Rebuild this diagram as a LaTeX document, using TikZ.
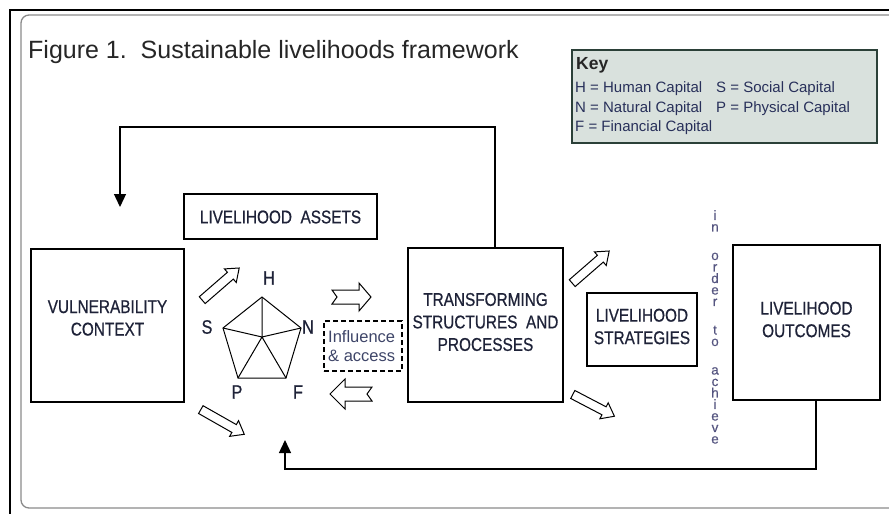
\documentclass[tikz,border=0pt]{standalone}
\usepackage{fontspec}
\setmainfont{Liberation Sans}
\newfontfamily\boxfont[FakeStretch=0.83,FakeBold=0.6]{Liberation Sans}
\newfontfamily\vfont[FakeBold=0.5]{Liberation Sans}
\usetikzlibrary{shapes.arrows,arrows.meta}
\definecolor{txtc}{HTML}{1E2238}
\definecolor{keyfill}{HTML}{D9E1DD}
\definecolor{keydraw}{HTML}{2B4038}
\definecolor{keytxt}{HTML}{28305A}
\definecolor{inftxt}{HTML}{3E4568}
\definecolor{vtxt}{HTML}{555580}
\definecolor{framegray}{HTML}{8A8A8A}
\tikzset{
  box/.style={draw, line width=1.3pt, inner sep=0pt},
  btxt/.style={font=\boxfont\fontsize{18.5}{22.5}\selectfont, text=txtc, align=center, inner sep=0pt},
  lbl/.style={font=\boxfont\fontsize{19.5}{20}\selectfont, text=txtc, inner sep=0pt},
  ktxt/.style={font=\fontsize{15}{17}\selectfont, text=keytxt, inner sep=0pt, anchor=west},
  fb/.style={line width=1.3pt, -{Triangle[width=12pt,length=13pt]}},
  harrow/.style={draw, line width=1pt, fill=white, line join=miter},
  darrow/.style={single arrow, draw, line width=1pt, minimum width=17pt, single arrow head extend=4.5pt, single arrow tip angle=75, inner sep=4pt},
  pent/.style={line width=1pt, line join=miter},
}
\begin{document}
\begin{tikzpicture}[x=1pt,y=-1pt]
\useasboundingbox (0,0) rectangle (889,514);
% frames
\draw[line width=2.2pt] (10,530) -- (10,10) -- (900,10);
\draw[framegray, line width=1.3pt, rounded corners=8pt] (905,15) -- (21,15) -- (21,508) -- (905,508);
% title
\node[anchor=base west, inner sep=0pt, font=\fontsize{25}{28}\selectfont, text=black!85] (title) at (28,58) {Figure 1.\ \ Sustainable livelihoods framework};
% key
\node[draw=keydraw, fill=keyfill, line width=1.2pt, minimum width=305pt, minimum height=93pt, inner sep=0pt] (key) at (724.5,96.5) {};
\node[anchor=west, inner sep=0pt, font=\bfseries\fontsize{17.5}{20}\selectfont, text=black!85] (keyt) at (576,65) {Key};
\node[ktxt] (k1) at (575,89) {H = Human Capital};
\node[ktxt] (k2) at (716,89) {S = Social Capital};
\node[ktxt] (k3) at (575,108.5) {N = Natural Capital};
\node[ktxt] (k4) at (716,108.5) {P = Physical Capital};
\node[ktxt] (k5) at (575,128) {F = Financial Capital};
% boxes
\node[box, minimum width=153pt, minimum height=153pt] (vc) at (107.5,325.5) {};
\node[btxt] (vct) at (107.5,318) {VULNERABILITY\\CONTEXT};
\node[box, minimum width=193pt, minimum height=45pt] (la) at (280.5,216.5) {};
\node[btxt] (lat) at (280.5,217) {LIVELIHOOD\ \ ASSETS};
\node[box, minimum width=155pt, minimum height=154pt] (tsp) at (485.5,325) {};
\node[btxt] (tspt) at (485.5,322) {TRANSFORMING\\STRUCTURES\ \ AND\\PROCESSES};
\node[box, minimum width=110pt, minimum height=73pt] (ls) at (642,329.5) {};
\node[btxt] (lst) at (642,326.5) {LIVELIHOOD\\STRATEGIES};
\node[box, minimum width=147pt, minimum height=155pt] (lo) at (806.5,322.5) {};
\node[btxt] (lot) at (806.5,319.5) {LIVELIHOOD\\OUTCOMES};
% influence box
\node[draw, dash pattern=on 5pt off 3pt, line width=1.3pt, minimum width=78pt, minimum height=50pt, inner sep=0pt] (inf) at (363,346) {};
\node[anchor=west, inner sep=0pt, align=left, text=inftxt, font=\fontsize{16.5}{18.5}\selectfont] (inft) at (328,346) {Influence\\\& access};
% pentagon
\coordinate (pc) at (262,337);
\coordinate (pH) at (262,297);
\coordinate (pN) at (301,328);
\coordinate (pF) at (286,378);
\coordinate (pP) at (238,378);
\coordinate (pS) at (223,328);
\draw[pent] (pH) -- (pN) -- (pF) -- (pP) -- (pS) -- cycle;
\draw[pent] (pc) -- (pH) (pc) -- (pN) (pc) -- (pF) (pc) -- (pP) (pc) -- (pS);
\node[lbl] (lH) at (269,278) {H};
\node[lbl] (lN) at (308,327) {N};
\node[lbl] (lF) at (298,392) {F};
\node[lbl] (lP) at (237,392) {P};
\node[lbl] (lS) at (207,327) {S};
% hollow arrows
\draw[harrow] (332,290) -- (359,290) -- (359,283) -- (371,297) -- (359,311) -- (359,304) -- (332,304) -- (337,297) -- cycle;
\draw[harrow] (372,387) -- (345,387) -- (345,379) -- (330,394) -- (345,409) -- (345,401) -- (372,401) -- (367,394) -- cycle;
\node[darrow, minimum height=49pt, rotate=41] (d1) at (218.5,286) {};
\node[darrow, minimum height=50pt, rotate=-29.6] (d2) at (220,420.5) {};
\node[darrow, minimum height=49pt, rotate=41] (d3) at (588.5,269) {};
\node[darrow, minimum height=47pt, rotate=-27.6] (d4) at (591,404) {};
% vertical text
\node[inner sep=0pt, align=center, text=vtxt, font=\vfont\fontsize{13.5}{11.5}\selectfont, anchor=north] (ota) at (715,210) {i\\n\\[17pt]o\\r\\d\\e\\r\\[17pt]t\\o\\[17pt]a\\c\\h\\i\\e\\v\\e};
% feedback loops
\coordinate (t1) at (495,127);
\coordinate (t2) at (120,127);
\coordinate (t3) at (120,207);
\draw[fb] (t1 |- tsp.north) -- (t1) -- (t2) -- (t3);
\coordinate (b1) at (816,469);
\coordinate (b2) at (285,469);
\coordinate (b3) at (285,440);
\draw[fb] (b1 |- lo.south) -- (b1) -- (b2) -- (b3);
\end{tikzpicture}
\end{document}
